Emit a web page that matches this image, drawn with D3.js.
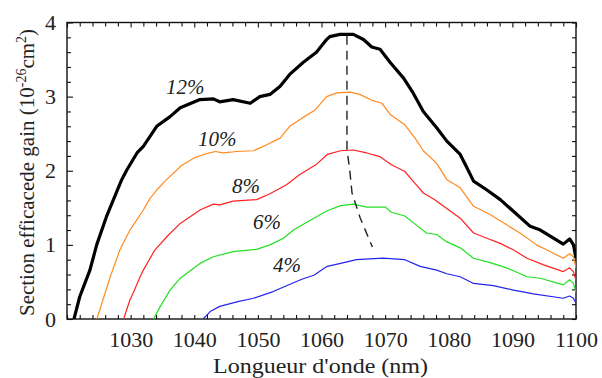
<!DOCTYPE html>
<html><head><meta charset="utf-8">
<script src="https://cdn.jsdelivr.net/npm/d3@7/dist/d3.min.js"></script>
</head><body style="margin:0">
<svg id="c" width="602" height="378" font-family="Liberation Serif"></svg>
<script>
// ---- data ----
const wl12=[1021.1,1022.0,1023.6,1024.7,1026.2,1027.3,1028.6,1029.4,1031.0,1032.0,1034.1,1036.2,1037.8,1040.9,1043.0,1044.0,1046.1,1048.8,1050.3,1051.9,1053.5,1055.0,1057.1,1059.2,1060.8,1061.3,1062.9,1065.0,1066.6,1067.9,1069.2,1070.8,1072.9,1074.4,1076.0,1078.1,1079.7,1081.8,1082.8,1083.9,1086.0,1088.1,1090.2,1092.8,1094.4,1098.0,1099.0,1099.6,1100];
const g12=[0,0.30,0.66,1.01,1.38,1.61,1.88,2.01,2.24,2.33,2.60,2.73,2.85,2.96,2.97,2.93,2.96,2.91,3.00,3.03,3.14,3.30,3.46,3.60,3.77,3.81,3.84,3.84,3.77,3.67,3.64,3.46,3.25,3.05,2.80,2.58,2.40,2.22,2.05,1.86,1.74,1.61,1.45,1.25,1.20,1.01,1.08,1.00,0.82];
const wl10=[1024.7,1026.8,1028.3,1029.9,1032.0,1033.0,1034.1,1035.4,1038.0,1039.9,1041.5,1043.3,1044.6,1046.7,1049.3,1051.4,1053.5,1055.0,1057.1,1059.0,1060.8,1062.4,1064.5,1066.0,1067.9,1069.5,1070.8,1073.1,1074.7,1076.0,1078.1,1079.7,1081.8,1083.9,1086.5,1089.1,1091.2,1093.8,1095.9,1098.0,1099.0,1099.6,1100];
const g10=[0,0.57,0.93,1.20,1.47,1.62,1.74,1.86,2.07,2.17,2.22,2.26,2.24,2.26,2.27,2.35,2.44,2.60,2.72,2.82,3.00,3.05,3.06,3.03,2.95,2.91,2.76,2.62,2.44,2.27,2.10,1.88,1.77,1.52,1.41,1.27,1.16,1.00,0.91,0.82,0.88,0.84,0.69];
const wl8=[1028.9,1029.9,1030.4,1031.5,1032.0,1033.8,1035.8,1037.8,1040.9,1043.0,1044.0,1046.1,1049.8,1051.9,1054.5,1056.6,1059.1,1060.9,1063.0,1065.0,1067.1,1069.2,1071.0,1073.1,1074.7,1076.0,1077.8,1079.2,1081.8,1083.9,1086.0,1088.1,1090.2,1092.3,1094.9,1098.0,1099.0,1099.6,1100];
const g8=[0,0.26,0.35,0.57,0.66,0.93,1.12,1.29,1.47,1.55,1.54,1.59,1.61,1.69,1.81,1.95,2.08,2.22,2.27,2.28,2.24,2.19,2.08,1.99,1.83,1.70,1.61,1.52,1.36,1.16,1.09,1.02,0.93,0.82,0.73,0.64,0.69,0.64,0.52];
const wl6=[1033.6,1034.6,1036.2,1037.8,1040.9,1043.0,1046.1,1049.8,1051.9,1054.0,1055.6,1056.6,1058.8,1060.9,1063.0,1065.0,1067.1,1070.0,1071.0,1073.1,1074.7,1076.5,1078.1,1079.7,1081.8,1083.9,1086.5,1089.1,1092.3,1094.4,1098.0,1099.0,1099.6,1100];
const g6=[0,0.16,0.39,0.55,0.75,0.84,0.91,0.94,1.00,1.09,1.20,1.25,1.36,1.46,1.53,1.55,1.51,1.51,1.44,1.39,1.28,1.16,1.14,1.04,0.96,0.82,0.76,0.69,0.57,0.55,0.46,0.53,0.48,0.36];
const wl4=[1041.4,1042.5,1044.0,1046.7,1049.3,1052.4,1055.6,1057.0,1058.8,1060.9,1063.0,1065.5,1069.7,1073.1,1075.5,1078.1,1079.7,1081.8,1083.9,1087.0,1090.2,1093.3,1098.0,1099.0,1099.6,1100];
const g4=[0,0.10,0.17,0.23,0.28,0.37,0.49,0.54,0.59,0.71,0.75,0.80,0.82,0.80,0.71,0.66,0.61,0.57,0.48,0.45,0.39,0.34,0.28,0.31,0.28,0.21];
const peakWl=[1064.0,1064.0,1064.4,1064.8,1066.1,1068.0];
const peakG=[3.82,2.28,2.04,1.70,1.36,0.97];
const seriesNames=["12%","10%","8%","6%","4%"];
const xTicks=d3.range(1020,1101,2);
const xLabels=[1030,1040,1050,1060,1070,1080,1090,1100];
const yTicks=d3.range(0,21).map(i=>i/5);
const yLabels=[0,1,2,3,4];
const xTitle="Longueur d'onde (nm)";

// ---- drawing ----
const svg=d3.select("#c");
const L=67,R=576,T=22.5,B=319;
const x=d3.scaleLinear().domain([1020,1100]).range([L,R]);
const y=d3.scaleLinear().domain([0,4]).range([B,T]);
const isInt=d=>Math.abs(d-Math.round(d))<1e-6;
const FF='"Liberation Serif"';

svg.append("defs").append("clipPath").attr("id","clip")
  .append("rect").attr("x",L).attr("y",T).attr("width",R-L).attr("height",B-T);

const gB=svg.append("g").attr("transform",`translate(0,${B})`)
  .call(d3.axisBottom(x).tickValues(xTicks).tickSizeInner(-4).tickSizeOuter(0)
    .tickFormat(d=>xLabels.includes(d)?String(d):""));
const gT=svg.append("g").attr("transform",`translate(0,${T})`)
  .call(d3.axisTop(x).tickValues(xTicks).tickSizeInner(-4).tickSizeOuter(0).tickFormat(""));
gT.selectAll(".tick line").filter(d=>d%10===0).attr("y2",5);
const gL=svg.append("g").attr("transform",`translate(${L},0)`)
  .call(d3.axisLeft(y).tickValues(yTicks).tickSizeInner(-4).tickSizeOuter(0)
    .tickFormat(d=>yLabels.some(v=>Math.abs(v-d)<1e-6)?d3.format("d")(d):""));
gL.selectAll(".tick line").filter(d=>isInt(d)).attr("x2",6);
const gR=svg.append("g").attr("transform",`translate(${R},0)`)
  .call(d3.axisRight(y).tickValues(yTicks).tickSizeInner(-4).tickSizeOuter(0).tickFormat(""));
[gB,gT,gL,gR].forEach(g=>{
  g.attr("font-family","Liberation Serif").attr("font-size",22);
  g.select(".domain").remove();
  g.selectAll(".tick line").attr("stroke","#111").attr("stroke-width",1.1);
});
gB.selectAll("text").attr("y",12.5).attr("fill","#222").style("font-family",FF);
gL.selectAll("text").attr("x",-11).attr("fill","#222").style("font-family",FF);

svg.append("rect").attr("x",L).attr("y",T).attr("width",R-L).attr("height",B-T)
  .attr("fill","none").attr("stroke","#111").attr("stroke-width",1.4);

const line=d3.line().x(d=>x(d[0])).y(d=>y(d[1]));
const series=[
  {w:wl12,g:g12,c:"#000000",sw:3.2},
  {w:wl10,g:g10,c:"#ff8a1e",sw:1.2},
  {w:wl8,g:g8,c:"#ff2222",sw:1.2},
  {w:wl6,g:g6,c:"#22e022",sw:1.2},
  {w:wl4,g:g4,c:"#2424f0",sw:1.2}
];
const gc=svg.append("g").attr("clip-path","url(#clip)");
series.slice().reverse().forEach(s=>{
  gc.append("path").datum(d3.zip(s.w,s.g)).attr("d",line)
    .attr("fill","none").attr("stroke",s.c).attr("stroke-width",s.sw)
    .attr("stroke-linejoin","round");
});
gc.append("path").datum(d3.zip(peakWl,peakG)).attr("d",line)
  .attr("fill","none").attr("stroke","#222").attr("stroke-width",1.4)
  .attr("stroke-dasharray","9,6");

const labelPos=[[166,94],[198,146],[232,193],[253,229],[273,272]];
seriesNames.forEach((n,i)=>{
  svg.append("text").attr("x",labelPos[i][0]).attr("y",labelPos[i][1])
    .attr("font-style","italic").attr("font-size",21).style("font-family",FF)
    .attr("fill","#222").text(n);
});

svg.append("text").attr("x",320.5).attr("y",373).attr("text-anchor","middle")
  .attr("font-size",21).attr("fill","#222").style("font-family",FF)
  .attr("textLength",215).attr("lengthAdjust","spacingAndGlyphs").text(xTitle);

const yt=svg.append("text").attr("transform","translate(34,172.5) rotate(-90)")
  .attr("text-anchor","middle").attr("font-size",21).attr("fill","#222").style("font-family",FF);
yt.append("tspan").text("Section efficacede gain (10");
yt.append("tspan").attr("dy",-8).attr("font-size",14).text("-26");
yt.append("tspan").attr("dy",8).text("cm");
yt.append("tspan").attr("dy",-8).attr("font-size",14).text("2");
yt.append("tspan").attr("dy",8).text(")");
</script>
</body></html>
